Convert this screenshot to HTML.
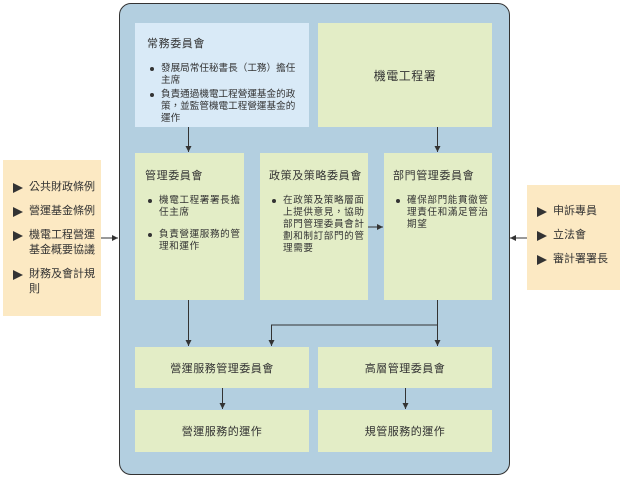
<!DOCTYPE html>
<html><head><meta charset="utf-8"><style>
body{margin:0;width:622px;height:477px;background:#fff;position:relative;overflow:hidden;font-family:"Liberation Sans","Noto Sans CJK TC",sans-serif;color:#333;}
.b{position:absolute;box-sizing:border-box;}
.g{background:#e3edc6;}
.t{font-size:11px;white-space:nowrap;letter-spacing:0.6px;}
ul{margin:0;padding:0;list-style:none;}
li{position:relative;padding-left:14px;font-size:9.6px;line-height:12px;margin-bottom:2px;white-space:nowrap;}
.g li{letter-spacing:0.6px;}
li:before{content:"";position:absolute;left:3px;top:4px;width:4px;height:4px;border-radius:2px;background:#333;}
.c{display:flex;align-items:center;justify-content:center;font-size:11px;letter-spacing:0.5px;}
.s li{padding-left:22px;font-size:11px;line-height:15px;margin-bottom:9px;}
.s li:before{content:"";left:6px;top:3px;width:0;height:0;border-radius:0;background:none;border-left:10px solid #333;border-top:5px solid transparent;border-bottom:5px solid transparent;}
</style></head><body>
<div class="b" style="left:119px;top:3px;width:391px;height:472px;background:#b3cfe0;border:1px solid #333;border-radius:12px;"></div>
<div class="b" style="left:135px;top:23px;width:174px;height:104px;background:#d9eaf7;padding:12px 2px 0 12px;">
<div class="t" style="margin-bottom:12px">常務委員會</div>
<ul><li>發展局常任秘書長（工務）擔任<br>主席</li><li>負責通過機電工程營運基金的政<br>策，並監管機電工程營運基金的<br>運作</li></ul></div>
<div class="b g c" style="left:318px;top:23px;width:174px;height:104px;font-size:12px;">機電工程署</div>
<div class="b g" style="left:135px;top:153px;width:109px;height:147px;padding:14px 2px 0 10px;"><div class="t" style="margin-bottom:12px">管理委員會</div><ul><li>機電工程署署長擔<br>任主席</li><li style="margin-top:10px">負責營運服務的管<br>理和運作</li></ul></div>
<div class="b g" style="left:260px;top:153px;width:108px;height:147px;padding:14px 2px 0 9px;"><div class="t" style="margin-bottom:12px">政策及策略委員會</div><ul><li>在政策及策略層面<br>上提供意見，協助<br>部門管理委員會計<br>劃和制訂部門的管<br>理需要</li></ul></div>
<div class="b g" style="left:384px;top:153px;width:108px;height:147px;padding:14px 2px 0 9px;"><div class="t" style="margin-bottom:12px">部門管理委員會</div><ul><li>確保部門能貫徹管<br>理責任和滿足管治<br>期望</li></ul></div>
<div class="b g c" style="left:135px;top:347px;width:174px;height:41px;">營運服務管理委員會</div>
<div class="b g c" style="left:318px;top:347px;width:174px;height:41px;">高層管理委員會</div>
<div class="b g c" style="left:135px;top:410px;width:174px;height:42px;">營運服務的運作</div>
<div class="b g c" style="left:318px;top:410px;width:174px;height:42px;">規管服務的運作</div>
<div class="b s" style="left:3px;top:160px;width:98px;height:156px;background:#fce9c3;padding:20px 2px 0 4px;"><ul><li>公共財政條例</li><li>營運基金條例</li><li>機電工程營運<br>基金概要協議</li><li>財務及會計規<br>則</li></ul></div>
<div class="b s" style="left:527px;top:185px;width:93px;height:105px;background:#fce9c3;padding:19px 2px 0 4px;"><ul><li>申訴專員</li><li>立法會</li><li>審計署署長</li></ul></div>
<svg class="b" style="left:0;top:0" width="622" height="477">
<defs><marker id="a" markerWidth="6" markerHeight="6" refX="6" refY="3" orient="auto"><path d="M0,0L6,3L0,6z" fill="#333"/></marker></defs>
<g stroke="#333" stroke-width="1" fill="none" marker-end="url(#a)">
<path d="M188.5 127V152"/><path d="M437.5 127V152"/><path d="M188.5 300V346"/>
<path d="M437.5 300V346"/><path d="M437.5 325H271.5V346"/>
<path d="M222.5 388V409"/><path d="M405.5 388V409"/>
<path d="M368 227H383"/><path d="M101 238H118"/><path d="M527 238H510"/>
</g></svg>
</body></html>
